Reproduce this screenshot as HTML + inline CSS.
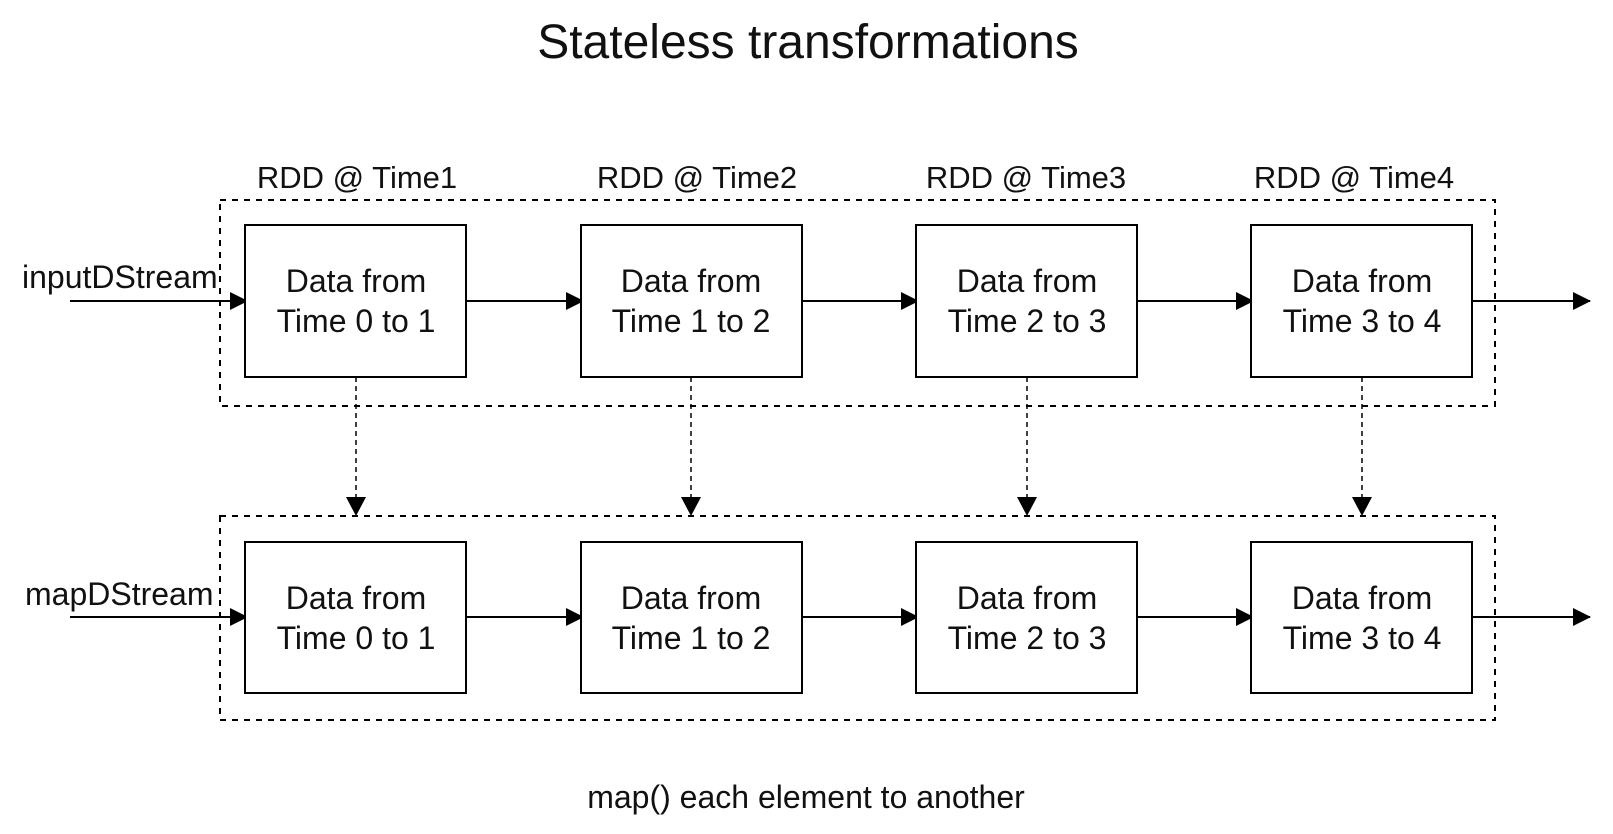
<!DOCTYPE html>
<html><head><style>
body{margin:0;background:#fff;}
svg text{font-family:"Liberation Sans","DejaVu Sans",sans-serif;fill:#111;}
</style></head><body>
<svg width="1613" height="829" viewBox="0 0 1613 829" xmlns="http://www.w3.org/2000/svg">
<defs><marker id="a" markerWidth="18" markerHeight="18" refX="17" refY="9" orient="auto" markerUnits="userSpaceOnUse"><path d="M0,0 L18,9 L0,18 z" fill="#000"/></marker></defs>
<text x="808" y="58" font-size="48" text-anchor="middle">Stateless transformations</text>
<g font-size="31" text-anchor="middle">
<text x="357" y="188">RDD @ Time1</text>
<text x="697" y="188">RDD @ Time2</text>
<text x="1026" y="188">RDD @ Time3</text>
<text x="1354" y="188">RDD @ Time4</text>
</g>
<g fill="none" stroke="#000" stroke-width="2" stroke-dasharray="6,6">
<rect x="220" y="200" width="1275" height="206"/>
<rect x="220" y="516" width="1275" height="204"/>
</g>
<text x="22" y="288" font-size="32">inputDStream</text>
<text x="25" y="605" font-size="32">mapDStream</text>
<g stroke="#000" stroke-width="2">
<line x1="70" y1="301" x2="247" y2="301" marker-end="url(#a)"/>
<line x1="70" y1="617" x2="247" y2="617" marker-end="url(#a)"/>
<line x1="466" y1="301" x2="583" y2="301" marker-end="url(#a)"/>
<line x1="802" y1="301" x2="918" y2="301" marker-end="url(#a)"/>
<line x1="1137" y1="301" x2="1253" y2="301" marker-end="url(#a)"/>
<line x1="1472" y1="301" x2="1590" y2="301" marker-end="url(#a)"/>
<line x1="466" y1="617" x2="583" y2="617" marker-end="url(#a)"/>
<line x1="802" y1="617" x2="918" y2="617" marker-end="url(#a)"/>
<line x1="1137" y1="617" x2="1253" y2="617" marker-end="url(#a)"/>
<line x1="1472" y1="617" x2="1590" y2="617" marker-end="url(#a)"/>
</g>
<g stroke="#000" stroke-width="1.5" stroke-dasharray="5,4">
<line x1="356" y1="377" x2="356" y2="500"/>
<line x1="691" y1="377" x2="691" y2="500"/>
<line x1="1027" y1="377" x2="1027" y2="500"/>
<line x1="1362" y1="377" x2="1362" y2="500"/>
</g>
<g fill="#000">
<path d="M346,497 L366,497 L356,516 z"/>
<path d="M681,497 L701,497 L691,516 z"/>
<path d="M1017,497 L1037,497 L1027,516 z"/>
<path d="M1352,497 L1372,497 L1362,516 z"/>
</g>
<g fill="#fff" stroke="#000" stroke-width="2">
<rect x="245" y="225" width="221" height="152"/>
<rect x="581" y="225" width="221" height="152"/>
<rect x="916" y="225" width="221" height="152"/>
<rect x="1251" y="225" width="221" height="152"/>
<rect x="245" y="542" width="221" height="151"/>
<rect x="581" y="542" width="221" height="151"/>
<rect x="916" y="542" width="221" height="151"/>
<rect x="1251" y="542" width="221" height="151"/>
</g>
<g font-size="32" text-anchor="middle">
<text x="356" y="292">Data from</text><text x="356" y="332">Time 0 to 1</text>
<text x="691" y="292">Data from</text><text x="691" y="332">Time 1 to 2</text>
<text x="1027" y="292">Data from</text><text x="1027" y="332">Time 2 to 3</text>
<text x="1362" y="292">Data from</text><text x="1362" y="332">Time 3 to 4</text>
<text x="356" y="609">Data from</text><text x="356" y="649">Time 0 to 1</text>
<text x="691" y="609">Data from</text><text x="691" y="649">Time 1 to 2</text>
<text x="1027" y="609">Data from</text><text x="1027" y="649">Time 2 to 3</text>
<text x="1362" y="609">Data from</text><text x="1362" y="649">Time 3 to 4</text>
</g>
<text x="806" y="808" font-size="32" text-anchor="middle">map() each element to another</text>
</svg>
</body></html>
